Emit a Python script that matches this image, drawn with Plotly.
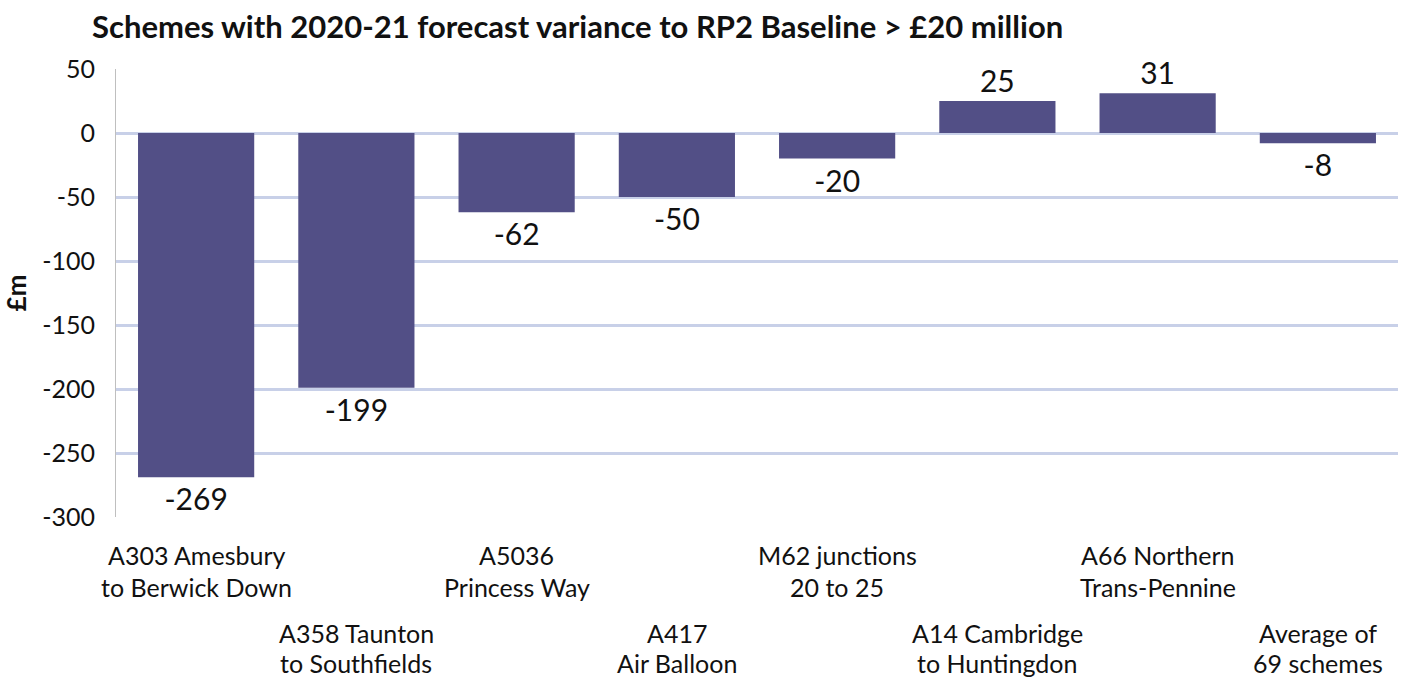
import plotly.graph_objects as go

# Forecast variance to RP2 baseline, £m
schemes = [
    "A303 Amesbury\nto Berwick Down",
    "A358 Taunton\nto Southfields",
    "A5036\nPrincess Way",
    "A417\nAir Balloon",
    "M62 junctions\n20 to 25",
    "A14 Cambridge\nto Huntingdon",
    "A66 Northern\nTrans-Pennine",
    "Average of\n69 schemes",
]
variance = [-269, -199, -62, -50, -20, 25, 31, -8]
y_ticks = [50, 0, -50, -100, -150, -200, -250, -300]

FONT = "Lato"
INK = "#111111"
BAR = "#524f86"
GRID = "#c8d0e8"

fig = go.Figure(
    go.Bar(
        x=list(range(len(schemes))),
        y=variance,
        marker=dict(color=BAR, line=dict(width=0)),
        text=[str(v) for v in variance],
        textposition="outside",
        textfont=dict(family=FONT, size=30, color=INK),
        cliponaxis=False,
        width=0.725,
    )
)

# Category labels, staggered over two rows; one annotation per text line
line_offsets = {0: [-38, -70], 1: [-116, -146]}
for i, name in enumerate(schemes):
    for line, shift in zip(name.split("\n"), line_offsets[i % 2]):
        fig.add_annotation(
            x=i, xref="x", y=0, yref="paper",
            text=line, showarrow=False, yanchor="middle",
            yshift=shift, borderpad=0,
            font=dict(family=FONT, size=25, color=INK),
        )

fig.update_layout(
    width=1410, height=679,
    margin=dict(l=116, r=12, t=69, b=162),
    plot_bgcolor="white", paper_bgcolor="white",
    showlegend=False,
    title=dict(
        text="<b>Schemes with 2020-21 forecast variance to RP2 Baseline &gt; £20 million</b>",
        x=92 / 1410, xanchor="left", y=1 - 27 / 679, yanchor="middle",
        font=dict(family=FONT, size=31, color=INK),
    ),
    xaxis=dict(
        range=[-0.5, len(schemes) - 0.5],
        showticklabels=False, showgrid=False, zeroline=False,
        showline=False, ticks="",
    ),
    yaxis=dict(
        range=[-300, 50],
        automargin=False,
        tickvals=y_ticks,
        ticktext=[str(v) for v in y_ticks],
        tickfont=dict(family=FONT, size=25, color=INK),
        showgrid=True, gridcolor=GRID, gridwidth=3,
        zeroline=True, zerolinecolor=GRID, zerolinewidth=3,
        showline=True, linecolor="#bfbfbf", linewidth=1,
        ticks="", ticklabelstandoff=15,
        title=dict(text="<b>£m</b>", font=dict(family=FONT, size=26, color=INK), standoff=19),
    ),
)

fig.write_html("out.html")
